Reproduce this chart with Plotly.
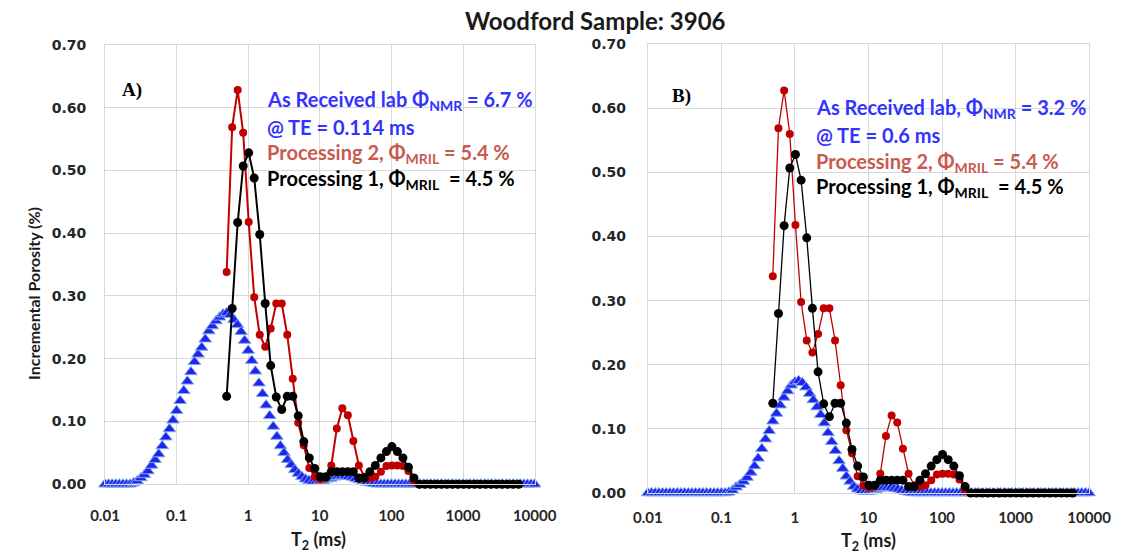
import plotly.graph_objects as go

# ---------------- data ----------------
# MRIL T2 bins (ms) shared by Processing 1 / Processing 2
mril_t2 = [0.5, 0.597, 0.713, 0.851, 1.016, 1.213, 1.448, 1.728, 2.063, 2.463,
           2.94, 3.51, 4.19, 5.0, 5.97, 7.13, 8.51, 10.16, 12.13, 14.48,
           17.28, 20.63, 24.63, 29.4, 35.1, 41.9, 50.0, 59.7, 71.3, 85.1,
           101.6, 121.3, 144.8, 172.8, 206.3, 246.3, 294.0, 351.0, 419.0, 500.0,
           597.0, 713.0, 851.0, 1016.0, 1213.0, 1448.0, 1728.0, 2063.0, 2463.0, 2940.0,
           3510.0, 4190.0, 5000.0, 5970.0]

proc1 = [0.14, 0.28, 0.417, 0.507, 0.528, 0.488, 0.398, 0.288, 0.189, 0.139,
         0.119, 0.14, 0.14, 0.109, 0.068, 0.042, 0.025, 0.012, 0.012, 0.02,
         0.02, 0.02, 0.02, 0.02, 0.01, 0.01, 0.02, 0.03, 0.042, 0.052,
         0.06, 0.052, 0.042, 0.027, 0.01, 0.0, 0.0, 0.0, 0.0, 0.0,
         0.0, 0.0, 0.0, 0.0, 0.0, 0.0, 0.0, 0.0, 0.0, 0.0,
         0.0, 0.0, 0.0, 0.0]

proc2 = [0.338, 0.569, 0.628, 0.56, 0.418, 0.298, 0.238, 0.219, 0.248, 0.288,
         0.288, 0.238, 0.168, 0.098, 0.062, 0.026, 0.012, 0.008, 0.01, 0.03,
         0.089, 0.121, 0.11, 0.069, 0.03, 0.012, 0.01, 0.012, 0.02, 0.029,
         0.03, 0.03, 0.029, 0.021, 0.003, 0.0, 0.0, 0.0, 0.0, 0.0,
         0.0, 0.0, 0.0, 0.0, 0.0, 0.0, 0.0, 0.0, 0.0, 0.0,
         0.0, 0.0, 0.0, 0.0]

# Lab NMR T2 bins (ms)
lab_t2 = [0.01, 0.01122, 0.01259, 0.01413, 0.01585, 0.01778, 0.01995, 0.02239, 0.02512, 0.02818,
          0.03162, 0.03548, 0.03981, 0.04467, 0.05012, 0.05623, 0.0631, 0.07079, 0.07943, 0.08913,
          0.1, 0.1122, 0.1259, 0.1413, 0.1585, 0.1778, 0.1995, 0.2239, 0.2512, 0.2818,
          0.3162, 0.3548, 0.3981, 0.4467, 0.5012, 0.5623, 0.631, 0.7079, 0.7943, 0.8913,
          1.0, 1.122, 1.259, 1.413, 1.585, 1.778, 1.995, 2.239, 2.512, 2.818,
          3.162, 3.548, 3.981, 4.467, 5.012, 5.623, 6.31, 7.079, 7.943, 8.913,
          10.0, 11.22, 12.59, 14.13, 15.85, 17.78, 19.95, 22.39, 25.12, 28.18,
          31.62, 35.48, 39.81, 44.67, 50.12, 56.23, 63.1, 70.79, 79.43, 89.13,
          100.0, 112.2, 125.9, 141.3, 158.5, 177.8, 199.5, 223.9, 251.2, 281.8,
          316.2, 354.8, 398.1, 446.7, 501.2, 562.3, 631.0, 707.9, 794.3, 891.3,
          1000.0, 1122.0, 1259.0, 1413.0, 1585.0, 1778.0, 1995.0, 2239.0, 2512.0, 2818.0,
          3162.0, 3548.0, 3981.0, 4467.0, 5012.0, 5623.0, 6310.0, 7079.0, 7943.0, 8913.0,
          10000.0]

lab_a = [0, 0, 0, 0, 0, 0, 0, 0, 0.002, 0.005,
         0.010, 0.015, 0.021, 0.030, 0.039, 0.048, 0.061, 0.075, 0.088, 0.102,
         0.117, 0.133, 0.149, 0.164, 0.179, 0.195, 0.207, 0.218, 0.231, 0.244,
         0.252, 0.260, 0.266, 0.271, 0.273, 0.270, 0.262, 0.254, 0.243, 0.229,
         0.213, 0.197, 0.180, 0.161, 0.144, 0.126, 0.109, 0.092, 0.076, 0.061,
         0.050, 0.039, 0.031, 0.023, 0.017, 0.012, 0.008, 0.006, 0.004, 0.004,
         0.005, 0.006, 0.008, 0.009, 0.011, 0.012, 0.013, 0.013, 0.012, 0.011,
         0.009, 0.007, 0.005, 0.003, 0.002, 0.001, 0, 0, 0, 0,
         0, 0, 0, 0, 0, 0, 0, 0, 0, 0,
         0, 0, 0, 0, 0, 0, 0, 0, 0, 0,
         0, 0, 0, 0, 0, 0, 0, 0, 0, 0,
         0, 0, 0, 0, 0, 0, 0, 0, 0, 0,
         0]

lab_b = [0, 0, 0, 0, 0, 0, 0, 0, 0, 0,
         0, 0, 0, 0, 0, 0, 0, 0, 0, 0,
         0, 0, 0.001, 0.004, 0.009, 0.013, 0.018, 0.024, 0.032, 0.042,
         0.054, 0.069, 0.084, 0.097, 0.112, 0.124, 0.137, 0.149, 0.159, 0.168,
         0.173, 0.175, 0.172, 0.165, 0.155, 0.145, 0.134, 0.122, 0.109, 0.094,
         0.080, 0.066, 0.050, 0.038, 0.026, 0.018, 0.010, 0.006, 0.003, 0.002,
         0.002, 0.003, 0.005, 0.007, 0.008, 0.008, 0.008, 0.007, 0.006, 0.004,
         0.002, 0.001, 0, 0, 0, 0, 0, 0, 0, 0,
         0, 0, 0, 0, 0, 0, 0, 0, 0, 0,
         0, 0, 0, 0, 0, 0, 0, 0, 0, 0,
         0, 0, 0, 0, 0, 0, 0, 0, 0, 0,
         0, 0, 0, 0, 0, 0, 0, 0, 0, 0,
         0]

x_ticks = [0.01, 0.1, 1, 10, 100, 1000, 10000]
x_tick_text = ["0.01", "0.1", "1", "10", "100", "1000", "10000"]
y_ticks = [0.0, 0.1, 0.2, 0.3, 0.4, 0.5, 0.6, 0.7]

# ---------------- figure ----------------
W, H = 1144, 558
def fx(px):
    return px / W
def fy(py):
    return 1 - py / H

BLUE = "rgb(35,35,240)"
BLUE_EDGE = "rgb(120,170,235)"
RED = "rgb(192,0,0)"
TXT_BLUE = "rgb(51,51,255)"
TXT_RED = "rgb(200,90,80)"

fig = go.Figure()

def add_panel(xa, ya, lab, lw):
    fig.add_trace(go.Scatter(x=lab_t2, y=lab, mode="markers", xaxis=xa, yaxis=ya,
                             marker=dict(symbol="triangle-up", size=11, color=BLUE,
                                         line=dict(color=BLUE_EDGE, width=1)),
                             cliponaxis=False, hoverinfo="x+y"))
    fig.add_trace(go.Scatter(x=mril_t2, y=proc2, mode="lines+markers", xaxis=xa, yaxis=ya,
                             line=dict(color=RED, width=lw),
                             marker=dict(symbol="circle", size=8, color=RED),
                             cliponaxis=False))
    fig.add_trace(go.Scatter(x=mril_t2, y=proc1, mode="lines+markers", xaxis=xa, yaxis=ya,
                             line=dict(color="black", width=lw),
                             marker=dict(symbol="circle", size=9, color="black"),
                             cliponaxis=False))

add_panel("x", "y", lab_a, 2)
add_panel("x2", "y2", lab_b, 1.3)

grid = "#d9d9d9"
xcommon = dict(type="log", range=[-2, 4], tickvals=x_ticks, ticktext=x_tick_text,
               showgrid=True, gridcolor=grid, gridwidth=1, showline=True, linecolor=grid,
               mirror=True, zeroline=False, ticks="",
               tickfont=dict(family="Lato", size=15, color="#262626", weight="bold"))
ycommon = dict(range=[0, 0.7], tickvals=y_ticks, tickformat=".2f",
               showgrid=True, gridcolor=grid, gridwidth=1, showline=True, linecolor=grid,
               mirror=True, zeroline=False, ticks="",
               tickfont=dict(family="DejaVu Sans", size=14, color="#262626", weight="bold"))

fig.update_layout(
    width=W, height=H, margin=dict(l=0, r=0, t=0, b=0),
    paper_bgcolor="white", plot_bgcolor="white", showlegend=False,
    xaxis=dict(xcommon, domain=[fx(93), fx(537)], anchor="y", ticklabelstandoff=18),
    yaxis=dict(ycommon, domain=[fy(490.3), fy(38)], anchor="x", ticklabelstandoff=15),
    xaxis2=dict(xcommon, domain=[fx(654), fx(1110)], anchor="y2", ticklabelstandoff=11),
    yaxis2=dict(ycommon, domain=[fy(499.3), fy(37.3)], anchor="x2", ticklabelstandoff=18),
)

anns = []
def ann(text, x, y, color="black", size=20, family="Lato", xanchor="left", angle=0):
    anns.append(dict(text=text, x=fx(x), y=fy(y), xref="paper", yref="paper",
                     xanchor=xanchor, yanchor="middle", showarrow=False, textangle=angle,
                     font=dict(family=family, size=size, color=color)))

ann("<b>Woodford Sample: 3906</b>", 600, 13, size=24, xanchor="center", color="#1a1a1a")
ann("<b>Incremental Porosity (%)</b>", 19, 294, size=16, xanchor="center", angle=-90, color="#1a1a1a")
ann("<b>T<sub>2</sub> (ms)</b>", 314, 548, size=18, xanchor="center", color="#1a1a1a")
ann("<b>T<sub>2</sub> (ms)</b>", 882, 549, size=18, xanchor="center", color="#1a1a1a")

ann("<b>A)</b>", 108, 84, size=19, family="Liberation Serif")
ann("<b>B)</b>", 677, 91, size=19, family="Liberation Serif")

ann("<b>As Received lab Φ<sub>NMR</sub> = 6.7 %</b>", 258, 95, color=TXT_BLUE)
ann("<b>@ TE = 0.114 ms</b>", 258, 122, color=TXT_BLUE)
ann("<b>Processing 2, Φ<sub>MRIL</sub> = 5.4 %</b>", 258, 150, color=TXT_RED)
ann("<b>Processing 1, Φ<sub>MRIL</sub>  = 4.5 %</b>", 258, 177, color="black")

ann("<b>As Received lab, Φ<sub>NMR</sub> = 3.2 %</b>", 826, 103, color=TXT_BLUE)
ann("<b>@ TE = 0.6 ms</b>", 826, 131, color=TXT_BLUE)
ann("<b>Processing 2, Φ<sub>MRIL</sub> = 5.4 %</b>", 826, 159, color=TXT_RED)
ann("<b>Processing 1, Φ<sub>MRIL</sub>  = 4.5 %</b>", 826, 185, color="black")

fig.update_layout(annotations=anns)
fig.write_html("out.html")
